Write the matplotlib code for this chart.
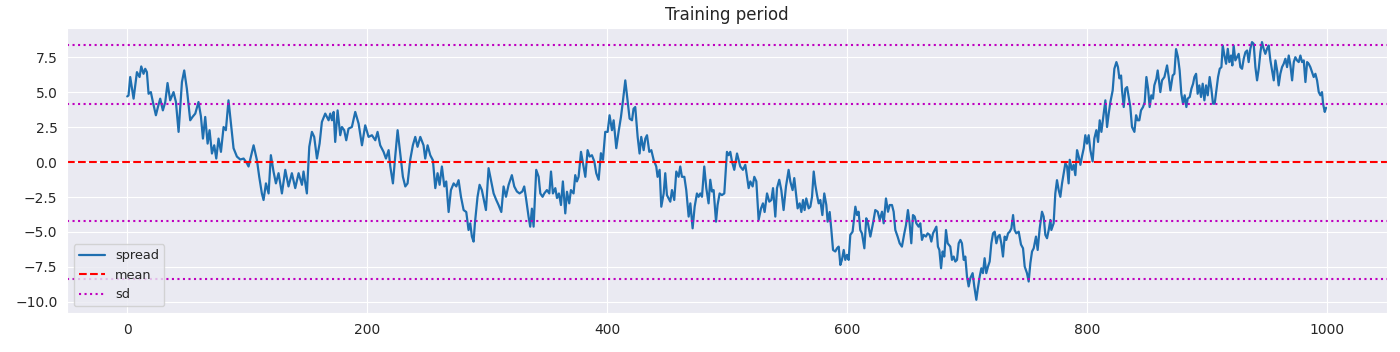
import matplotlib
matplotlib.use("Agg")
import matplotlib.pyplot as plt
import seaborn as sns

# spread values (x = day index, y = spread)
spread_x = [
    0, 1.1, 2.5, 5.3, 8.1, 10.3, 11.7, 13.6, 15, 16.4, 17.8, 19.7, 21.4, 23.9, 25.6, 27.5, 29.7, 31.7,
    33.6, 35.8, 38.6, 40.6, 42.8, 45.6, 47.5, 49.7, 52.5, 54.4, 56.7, 59.4, 61.4, 63.1, 65, 67, 68.6,
    70.6, 72.5, 74.2, 76.1, 78.1, 80.3, 82.2, 84.4, 86.4, 88.6, 91.4, 94.2, 97, 99.7, 101.1, 103.1,
    105.3, 108.1, 110, 112.2, 113.6, 115.6, 117.8, 119.7, 121.9, 123.9, 126.1, 128.9, 131.7, 134.4,
    137.2, 140, 142.8, 145.6, 146.9, 149.7, 151.7, 153.9, 155.8, 158.1, 160.3, 162.2, 165, 167.8,
    169.2, 170.6, 172, 173.3, 175.3, 177.5, 178.9, 180.8, 182.5, 184.4, 187.2, 190, 192.8, 195.6,
    198.3, 201.1, 203.9, 206.7, 208.6, 210.8, 213.6, 215.6, 217.8, 219.2, 221.4, 223.3, 225.3, 227.5,
    229.7, 231.7, 233.6, 235.8, 238, 240, 241.9, 244.2, 246.9, 248.3, 250.3, 252.5, 254.7, 256.7,
    258.6, 260.3, 262.2, 264.2, 265.8, 267.8, 269.7, 272, 274.2, 276.1, 278.1, 280.3, 282.5, 284.4,
    285.8, 287.2, 288.6, 289.7, 291.9, 293.6, 295.5, 296.9, 298.9, 301.1, 303.1, 305.3, 307.5, 309.4,
    311.7, 313.6, 315.6, 317.8, 320.5, 322.5, 324.7, 326.9, 329.2, 330.8, 332.5, 334.4, 335.8, 337.2,
    338.6, 340.8, 342.8, 344.2, 346.1, 347.5, 349.7, 351.7, 353.1, 354.7, 356.7, 358.1, 359.7, 361.4,
    363, 365, 366.4, 368.3, 369.7, 371.9, 373.3, 374.7, 376.1, 378.1, 379.7, 381.7, 383.6, 385.3,
    387.2, 389.2, 390.8, 392.8, 394.7, 396.4, 398.3, 400.3, 401.9, 403.9, 405.3, 407.5, 409.4, 411.4,
    413.1, 415, 417, 418.6, 420.6, 421.9, 423.3, 425.3, 426.9, 428.3, 430.3, 431.7, 433.1, 435, 436.7,
    438.6, 440.8, 441.9, 443.6, 445, 447, 448.3, 449.7, 451.1, 452.5, 453.9, 455.8, 457.5, 459.4,
    460.8, 462.2, 464.2, 465.8, 467.8, 469.2, 471.1, 472.8, 474.7, 476.1, 477.5, 478.9, 480.8, 482.5,
    484.4, 485.8, 487.2, 488.6, 490.6, 491.9, 493.6, 495.5, 497.5, 499.7, 501.1, 502.5, 503.9, 505.8,
    508.1, 510.8, 513, 515, 516.4, 517.8, 519.2, 521.1, 522.5, 524.2, 526.1, 528.1, 529.7, 531.1,
    533.1, 535, 536.7, 538.1, 540, 541.4, 543.3, 545, 546.9, 548.9, 551.1, 552.5, 554.4, 555.8, 557.5,
    558.6, 560.3, 561.7, 563.1, 564.4, 565.8, 567.8, 569.2, 570.6, 572, 573.3, 574.7, 576.1, 577.5,
    579.2, 580.8, 582.5, 583.6, 585.3, 586.7, 588.1, 590, 591.4, 592.8, 594.2, 595.5, 597, 598.3,
    599.7, 601.1, 602.5, 604.4, 606.7, 608.1, 609.4, 610.8, 612.2, 614.2, 615.8, 617.2, 619.2, 621.4,
    623.3, 625.3, 627, 628.9, 630.3, 632.2, 633.9, 635.3, 637.2, 638.6, 640, 641.9, 643.6, 645.5,
    647.5, 648.9, 650.5, 651.9, 653.3, 654.7, 656.1, 657.5, 659.4, 660.8, 662.2, 663.6, 665.5, 666.9,
    668.6, 670, 671.4, 672.8, 674.2, 675.5, 676.7, 678.1, 679.4, 680.8, 682.2, 683.6, 685.8, 687.2,
    688.6, 690, 691.4, 692.8, 694.2, 695.5, 697, 698.3, 699.7, 701.1, 702.5, 704.4, 705.8, 707.5,
    708.6, 710.3, 711.7, 713, 714.4, 715.8, 717.2, 718.6, 720, 721.4, 722.8, 724.2, 725.5, 726.9,
    728.3, 729.7, 731.1, 732.5, 733.9, 735.3, 736.7, 738.1, 739.4, 740.8, 742.8, 744.7, 746.4, 747.8,
    749.7, 751.1, 752.5, 753.9, 755.3, 757.2, 758.6, 760.3, 762.2, 763.6, 765, 766.4, 767.8, 769.2,
    770, 771.9, 773.3, 774.7, 776.1, 777.5, 778.9, 780.3, 781.7, 783.1, 784.4, 785.3, 787.2, 788.6,
    790, 791.4, 792.8, 794.2, 795.5, 797, 798.3, 799.7, 801.1, 802.5, 804.4, 805.8, 807.5, 808.9,
    810.3, 811.7, 813.1, 815, 816.4, 817.8, 819.2, 821.1, 822.5, 824.2, 825.5, 826.7, 828.1, 828.9,
    830.3, 831.7, 833.1, 834.4, 835.8, 837.2, 839.2, 840.6, 841.9, 843.3, 844.7, 846.4, 847.8, 849.2,
    850.6, 851.9, 853.3, 854.7, 855.8, 857.5, 858.6, 860.8, 862.2, 864.2, 866.4, 867.8, 869.2, 871.1,
    872.5, 873.9, 875.5, 876.9, 878.3, 879.7, 881.1, 882.5, 883.6, 885.3, 886.7, 888.1, 889.2, 890.6,
    891.9, 893.3, 894.7, 896.1, 897.5, 898.9, 900.3, 901.9, 903.3, 904.7, 906.1, 907.5, 908.9, 910.3,
    911.7, 912.8, 914.2, 915.6, 917, 918.3, 919.7, 920.8, 921.9, 923.3, 924.7, 926.1, 927.5, 928.9,
    930.3, 931.7, 933.1, 934.4, 935.8, 937.2, 938.6, 940, 941.4, 942.8, 944.2, 945.5, 946.9, 948.3,
    949.7, 951.1, 952.5, 953.9, 955.3, 956.7, 958.1, 959.4, 960.8, 962.2, 963.6, 965, 966.4, 967.8,
    969.2, 970.6, 972, 973.3, 974.7, 976.1, 977.5, 978.9, 980.3, 981.7, 983.1, 984.4, 985.8, 987.2,
    988.6, 990, 991.4, 992.8, 994.2, 995.5, 996.4, 997.8, 998.9,
]
spread_y = [
    4.71, 4.78, 6.1, 4.55, 6.45, 6.1, 6.86, 6.33, 6.69, 6.45, 4.9, 5.02, 4.31, 3.36, 3.95, 4.55, 3.71, 4.31,
    5.67, 4.43, 5.02, 4.31, 2.17, 5.74, 6.57, 5.26, 3.0, 3.24, 3.48, 4.31, 3.29, 1.69, 3.24, 1.33, 2.29,
    0.62, 1.21, 0.26, 1.69, 0.74, 2.52, 2.29, 4.43, 2.76, 1.0, 0.4, 0.19, 0.26, -0.07, -0.31, 0.4,
    1.21, 0.14, -1.05, -2.24, -2.71, -1.52, -2.24, 0.5, -0.67, -1.52, -0.79, -2.24, -0.55, -1.74,
    -0.79, -1.86, -0.79, -1.62, -0.67, -2.24, 1.1, 2.17, 1.81, 0.26, 1.33, 2.88, 3.48, 3.0,
    3.48, 3.0, 3.6, 1.45, 3.71, 1.93, 2.52, 2.29, 1.57, 2.4, 2.52, 3.6, 2.76, 1.21,
    2.64, 1.81, 1.93, 1.57, 2.17, 1.21, 0.74, 0.26, 0.86, -0.31, -1.52, 0.4, 2.29, 0.62,
    -1.05, -1.74, -1.52, 0.17, 1.21, 1.81, 1.1, 1.81, 1.21, 0.26, 1.21, 0.5, 0.14, -1.86,
    -0.79, -1.62, -0.31, -1.74, -1.38, -3.57, -2.0, -1.52, -1.74, -1.29, -2.48, -3.43, -3.57, -4.86,
    -4.38, -5.33, -5.69, -4.38, -2.48, -1.62, -2.0, -2.6, -3.43, -0.43, -1.29, -2.24, -2.71, -3.07,
    -3.57, -1.74, -2.48, -1.62, -0.93, -1.74, -2.1, -2.24, -2.1, -1.74, -2.71, -3.9, -4.62, -3.33,
    -4.62, -0.55, -1.05, -2.24, -2.48, -2.24, -2.0, -2.24, -0.67, -2.24, -1.86, -2.57, -2.24, -3.07,
    -1.38, -3.67, -2.12, -2.95, -2.0, -2.24, -0.93, -1.38, -1.05, 0.74, -0.07, -1.05, 0.86, 0.4,
    0.5, 0.05, -0.79, -1.26, 0.64, 0.17, 2.17, 2.17, 3.36, 2.29, 3.0, 1.0, 2.17, 3.24,
    4.43, 5.86, 4.31, 3.12, 3.0, 3.83, 3.95, 1.81, 0.62, 1.81, 0.86, 1.69, 1.93, 0.74, 0.86,
    0.17, -0.31, -1.05, -0.55, -3.19, -2.24, -0.79, -2.36, -2.6, -2.83, -2.0, -2.71, -0.67, -1.05,
    -0.31, -1.05, -1.05, -2.0, -3.9, -2.95, -4.74, -3.19, -2.24, -2.48, -2.24, -2.48, -0.31, -1.86,
    -2.95, -1.26, -2.1, -2.0, -4.26, -3.07, -2.24, -2.36, -2.24, 0.74, 0.5, 0.74, 0.05, -0.55,
    0.62, -0.31, -0.55, -0.19, -1.05, -1.86, -1.38, -1.74, -1.05, -1.38, -4.14, -3.31, -2.95, -3.57,
    -2.24, -2.83, -2.71, -1.86, -3.9, -1.86, -1.26, -2.0, -3.43, -1.74, -0.55, -1.38, -2.0, -1.14, -2.48,
    -3.31, -2.95, -3.57, -2.71, -3.43, -2.6, -3.31, -3.19, -2.48, -0.67, -1.62, -2.33, -2.95, -2.71,
    -3.79, -2.24, -3.07, -4.26, -3.57, -4.86, -6.29, -6.4, -6.17, -6.05, -7.36, -7.0, -6.29, -7.0,
    -6.64, -7.0, -5.21, -4.98, -3.19, -3.79, -3.55, -4.86, -5.1, -6.17, -4.02, -4.38, -5.33, -4.38,
    -3.43, -3.55, -4.14, -3.55, -4.38, -2.6, -3.55, -3.07, -3.07, -3.55, -4.86, -5.33, -5.81, -6.05,
    -5.1, -4.5, -3.43, -4.38, -5.81, -3.79, -3.9, -4.38, -4.62, -4.38, -5.57, -5.21, -5.33, -5.1,
    -5.21, -5.69, -5.1, -4.86, -4.62, -6.05, -6.29, -7.6, -6.4, -6.76, -4.86, -5.81, -6.05, -7.0,
    -6.76, -7.12, -7.0, -5.81, -5.57, -5.81, -7.0, -6.76, -8.19, -8.9, -8.31, -7.95, -8.9, -9.86,
    -9.14, -8.19, -7.6, -7.95, -6.88, -7.95, -7.48, -7.12, -5.81, -5.1, -4.98, -5.81, -5.33, -5.21,
    -5.81, -6.76, -5.33, -5.57, -5.1, -4.98, -4.74, -3.79, -4.86, -5.1, -4.98, -5.9, -6.17, -7.48,
    -7.95, -8.55, -7.24, -6.4, -6.17, -5.33, -6.29, -4.74, -3.55, -3.9, -5.21, -5.45, -4.86, -4.14,
    -4.86, -4.38, -2.24, -1.29, -2.0, -2.48, -1.52, -0.79, -0.07, -0.31, -1.52, 0.17, -0.55, -0.19,
    -0.93, 0.86, 0.4, -0.19, 0.4, 1.0, 1.93, 1.33, 1.93, 0.86, 0.05, 1.69, 2.29, 1.45,
    3.0, 2.17, 3.12, 4.43, 2.52, 3.48, 4.31, 5.14, 6.69, 7.17, 6.81, 6.0, 6.21, 5.14,
    3.95, 5.26, 5.38, 4.67, 3.95, 2.52, 2.17, 3.36, 3.0, 3.0, 3.71, 3.95, 4.31, 6.1,
    5.26, 3.95, 4.79, 4.55, 5.5, 5.98, 6.57, 5.02, 5.86, 6.1, 6.93, 6.1, 5.14, 6.21,
    6.33, 8.1, 7.52, 6.57, 4.9, 4.19, 4.79, 3.95, 4.55, 4.67, 5.26, 5.62, 6.1, 6.33,
    4.9, 5.5, 4.67, 5.62, 4.43, 5.5, 4.79, 6.1, 5.26, 4.19, 4.19, 5.14, 6.1, 6.69,
    6.81, 8.36, 7.64, 7.05, 8.12, 7.17, 7.64, 6.93, 8.36, 7.29, 7.52, 7.76, 6.81, 6.69,
    7.41, 7.88, 8.0, 7.17, 8.12, 8.6, 8.48, 6.81, 5.86, 6.69, 7.88, 8.6, 8.12, 7.76,
    8.12, 8.36, 7.29, 6.57, 5.86, 7.29, 6.57, 5.5, 6.33, 6.81, 7.05, 7.41, 6.81, 7.64,
    6.93, 5.86, 7.17, 7.52, 7.29, 7.17, 7.64, 7.17, 7.29, 5.74, 7.17, 7.05, 6.81, 6.45,
    6.1, 6.33, 5.86, 5.02, 4.79, 5.02, 4.19, 3.6, 3.9,
]

spread_mean = 0.0
spread_sd = 4.18

sns.set_style("darkgrid")

fig, ax = plt.subplots(figsize=(14, 3.52), dpi=100)
fig.subplots_adjust(left=0.048, right=0.991, top=0.920, bottom=0.111)

ax.plot(spread_x, spread_y, color="#1f6fb0", linewidth=1.6, label="spread")
ax.axhline(spread_mean, color="r", linestyle="--", linewidth=1.5, label="mean")
ax.axhline(spread_mean + spread_sd, color="m", linestyle=":", linewidth=1.5, label="sd")
ax.axhline(spread_mean - spread_sd, color="m", linestyle=":", linewidth=1.5)
ax.axhline(spread_mean + 2 * spread_sd, color="m", linestyle=":", linewidth=1.5)
ax.axhline(spread_mean - 2 * spread_sd, color="m", linestyle=":", linewidth=1.5)

ax.set_xlim(-50, 1050)
ax.set_ylim(-10.8, 9.6)
ax.set_title("Training period", fontsize=12)
ax.legend(loc="lower left", fontsize=9.3)

fig.savefig("out.png")
